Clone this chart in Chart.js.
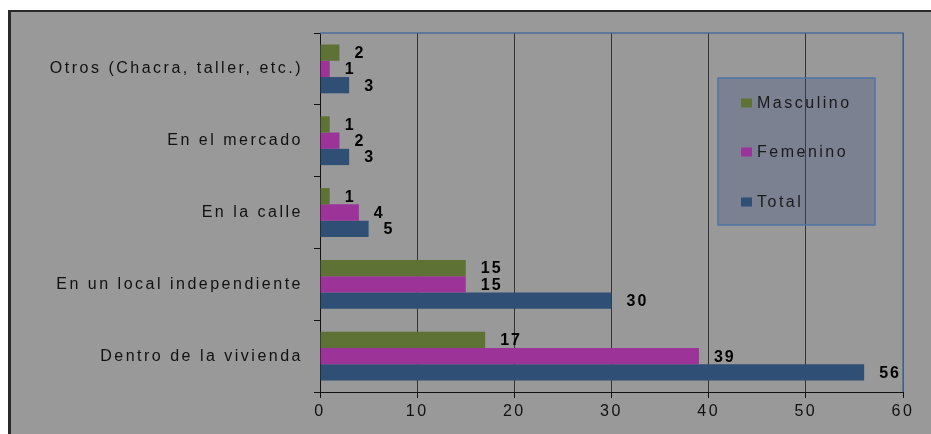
<!DOCTYPE html>
<html><head><meta charset="utf-8">
<script src="https://cdn.jsdelivr.net/npm/chart.js@4/dist/chart.umd.min.js"></script>
<style>html,body{margin:0;padding:0;background:#fff;overflow:hidden}#wrap{width:931px;height:434px;position:relative}</style>
</head><body><div id="wrap"><canvas id="c" width="931" height="434"></canvas></div>
<script>
const categories = ['Otros (Chacra, taller, etc.)', 'En el mercado', 'En la calle', 'En un local independiente', 'Dentro de la vivienda'];
const masculino = [2, 1, 1, 15, 17];
const femenino = [1, 2, 4, 15, 39];
const total = [3, 3, 5, 30, 56];
const seriesNames = ['Masculino', 'Femenino', 'Total'];
const xMin = 0, xMax = 60, xStep = 10;

const FONT = "'Liberation Sans', Arial, sans-serif";
const SPACING = '2.5px';

const spacingPlugin = {
  id: 'spacing',
  beforeInit(chart) { chart.ctx.letterSpacing = SPACING; },
  beforeUpdate(chart) { chart.ctx.letterSpacing = SPACING; },
  beforeLayout(chart) { chart.ctx.letterSpacing = SPACING; },
  beforeDraw(chart) { chart.ctx.letterSpacing = SPACING; }
};

const backgroundPlugin = {
  id: 'bg',
  beforeDraw(chart) {
    const ctx = chart.ctx;
    ctx.save();
    ctx.fillStyle = '#ffffff';
    ctx.fillRect(0, 0, chart.width, chart.height);
    ctx.fillStyle = '#999999';
    ctx.fillRect(8, 10, chart.width - 8, chart.height - 10);
    ctx.fillStyle = '#2a2a2a';
    ctx.fillRect(8, 10, chart.width - 8, 2);
    ctx.fillRect(8, 10, 3, chart.height - 10);
    ctx.restore();
  }
};

const framePlugin = {
  id: 'frame',
  afterDatasetsDraw(chart) {
    const ctx = chart.ctx, a = chart.chartArea;
    ctx.save();
    ctx.strokeStyle = '#4a6d9c';
    ctx.lineWidth = 1.5;
    ctx.beginPath();
    ctx.moveTo(a.left, a.top);
    ctx.lineTo(a.right, a.top);
    ctx.lineTo(a.right, a.bottom);
    ctx.stroke();
    // value labels
    ctx.letterSpacing = '2px';
    ctx.font = 'bold 16px ' + FONT;
    ctx.fillStyle = '#000';
    ctx.textAlign = 'left';
    ctx.textBaseline = 'middle';
    chart.data.datasets.forEach((ds, i) => {
      const meta = chart.getDatasetMeta(i);
      meta.data.forEach((el, j) => {
        ctx.fillText(String(ds.data[j]), el.x + 15, el.y + 1);
      });
    });
    ctx.restore();
  }
};

const legendPlugin = {
  id: 'boxLegend',
  afterDraw(chart) {
    const ctx = chart.ctx;
    ctx.save();
    ctx.fillStyle = 'rgba(56,76,129,0.3)';
    ctx.fillRect(718, 78, 157, 147);
    ctx.strokeStyle = '#4f74a8';
    ctx.lineWidth = 1.5;
    ctx.strokeRect(718, 78, 157, 147);
    const rows = [103, 152, 202];
    ctx.letterSpacing = SPACING;
    ctx.font = '16px ' + FONT;
    ctx.textAlign = 'left';
    ctx.textBaseline = 'middle';
    chart.data.datasets.forEach((ds, i) => {
      const y = rows[i];
      ctx.fillStyle = ds.backgroundColor;
      ctx.fillRect(741, y - 4.5, 11, 9);
      ctx.fillStyle = '#1a1a1a';
      ctx.fillText(ds.label, 757, y + 1);
    });
    ctx.restore();
  }
};

const colors = ['#5e7236', '#9b3399', '#2f4f74'];

new Chart(document.getElementById('c'), {
  type: 'bar',
  data: {
    labels: categories,
    datasets: [
      { label: seriesNames[0], data: masculino, backgroundColor: colors[0] },
      { label: seriesNames[1], data: femenino, backgroundColor: colors[1] },
      { label: seriesNames[2], data: total, backgroundColor: colors[2] }
    ]
  },
  options: {
    indexAxis: 'y',
    responsive: false,
    animation: false,
    devicePixelRatio: 1,
    layout: { padding: { left: 0, top: 33, right: 28, bottom: 0 } },
    datasets: { bar: { categoryPercentage: 0.68, barPercentage: 1.0, borderWidth: 0 } },
    plugins: { legend: { display: false }, tooltip: { enabled: false } },
    scales: {
      x: {
        type: 'linear', min: xMin, max: xMax,
        ticks: { stepSize: xStep, color: '#111', padding: 4, font: { family: FONT, size: 16 } },
        grid: { color: '#333333', lineWidth: 1, drawTicks: true, tickLength: 6, tickColor: '#111' },
        border: { display: true, color: '#111', width: 1 },
        afterFit(scale) { scale.height = 42; }
      },
      y: {
        ticks: { color: '#111', padding: 11, font: { family: FONT, size: 16 } },
        grid: { offset: true, drawOnChartArea: false, drawTicks: true, tickLength: 6, color: '#111' },
        border: { display: true, color: '#111', width: 1 },
        afterFit(scale) { scale.width = 320; }
      }
    }
  },
  plugins: [spacingPlugin, backgroundPlugin, framePlugin, legendPlugin]
});
</script>
</body></html>
